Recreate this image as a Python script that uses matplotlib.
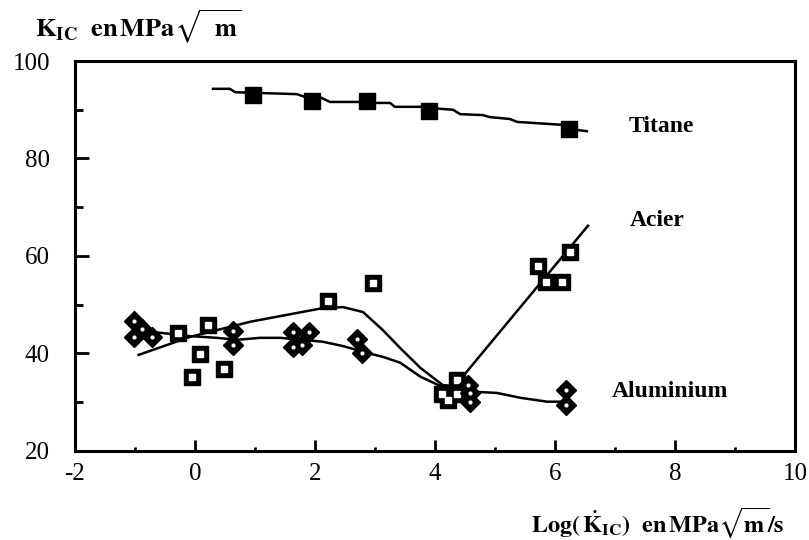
"""K_IC en fonction de la vitesse de chargement : titane, acier, aluminium."""

import matplotlib

matplotlib.use("Agg")
import matplotlib.pyplot as plt
from matplotlib.ticker import MultipleLocator

plt.rcParams["font.family"] = ["Liberation Serif", "DejaVu Serif"]
plt.rcParams["mathtext.fontset"] = "stix"
plt.rcParams["axes.unicode_minus"] = False

# points mesurés
titane_x = [0.97, 1.95, 2.87, 3.90, 6.24]
titane_y = [93.0, 91.8, 91.8, 89.7, 86.1]

acier_x = [-0.28, 0.22, 0.09, -0.05, 0.48, 2.21, 2.96, 4.12, 4.37, 4.22, 4.37, 5.71, 5.85, 6.12, 6.25]
acier_y = [44.2, 45.8, 39.9, 35.2, 36.8, 50.8, 54.5, 31.7, 31.7, 30.5, 34.6, 57.9, 54.7, 54.7, 60.8]

alu_x = [-1.02, -1.02, -0.88, -0.71, 0.63, 0.63, 1.64, 1.90, 1.64, 1.79, 2.70, 2.79, 4.55, 4.59, 4.59, 6.19, 6.19]
alu_y = [46.7, 43.4, 45.0, 43.4, 44.6, 41.7, 44.4, 44.4, 41.3, 41.8, 42.9, 40.0, 33.6, 31.9, 30.0, 32.5, 29.4]

# courbes tracées à la main
titane_cx = [0.30, 0.58, 0.67, 1.70, 1.84, 2.08, 2.25, 2.75, 2.96, 3.25, 3.33, 3.79, 4.08, 4.30,
             4.42, 4.80, 4.91, 5.25, 5.37, 5.63, 6.13, 6.34, 6.53]
titane_cy = [94.3, 94.3, 93.6, 93.2, 92.6, 92.6, 91.6, 91.6, 91.4, 91.4, 90.6, 90.6, 90.2, 90.0,
             89.1, 88.9, 88.5, 88.1, 87.5, 87.3, 86.9, 85.9, 85.6]

acier_cx = [-0.94, -0.08, 0.92, 2.13, 2.47, 2.80, 3.13, 3.42, 3.76, 4.13, 4.33, 6.55]
acier_cy = [39.7, 43.4, 46.5, 49.3, 49.5, 48.5, 44.8, 41.1, 37.0, 33.5, 33.3, 66.2]

alu_cx = [-1.03, -0.55, -0.13, 0.36, 0.70, 1.09, 1.42, 2.13, 2.47, 2.87, 3.13, 3.42, 3.76, 4.13,
          4.70, 5.03, 5.42, 5.87, 6.17]
alu_cy = [44.8, 44.2, 43.6, 43.2, 42.8, 43.2, 43.2, 42.4, 41.5, 40.1, 39.3, 38.1, 35.2, 33.1,
          32.1, 31.9, 30.9, 30.1, 30.1]

fig = plt.figure(figsize=(8.09, 5.40), dpi=100)
ax = fig.add_axes([0.0927, 0.165, 0.890, 0.722])

ax.plot(titane_cx, titane_cy, color="black", lw=1.8)
ax.plot(acier_cx, acier_cy, color="black", lw=1.8)
ax.plot(alu_cx, alu_cy, color="black", lw=1.8)

ax.plot(titane_x, titane_y, "s", color="black", ms=11, ls="none")
ax.plot(acier_x, acier_y, "s", color="black", ms=11, ls="none")
ax.plot(acier_x, acier_y, "s", color="white", ms=4, ls="none")
ax.plot(alu_x, alu_y, "D", color="black", ms=10, ls="none")
ax.plot(alu_x, alu_y, "o", color="white", ms=2, ls="none")

ax.set_xlim(-2, 10)
ax.set_ylim(20, 100)
ax.xaxis.set_major_locator(MultipleLocator(2))
ax.xaxis.set_minor_locator(MultipleLocator(1))
ax.yaxis.set_major_locator(MultipleLocator(20))
ax.yaxis.set_minor_locator(MultipleLocator(10))
ax.tick_params(which="both", direction="in", width=2, labelsize=18, top=False, right=False)
ax.tick_params(axis="x", which="major", length=8, pad=9)
ax.tick_params(axis="x", which="minor", length=3)
ax.tick_params(axis="y", which="major", length=10, pad=18)
ax.tick_params(axis="y", which="minor", length=6)
for spine in ax.spines.values():
    spine.set_linewidth(2.2)

text_style = dict(fontsize=17, fontweight="bold", ha="left", va="center")
ax.text(7.22, 86.5, "Titane", **text_style)
ax.text(7.25, 67.2, "Acier", **text_style)
ax.text(6.95, 32.1, "Aluminium", **text_style)

fig.text(0.043, 0.95, r"$\mathbf{K_{IC}}\ \ \mathbf{en\,MPa}\sqrt{\ \ \mathbf{m}}$",
         fontsize=19, ha="left", va="center")
fig.text(0.97, 0.032, r"$\mathbf{Log(\,\dot{K}_{IC})\ \ en\,MPa}\sqrt{\mathbf{m}}\mathbf{/s}$",
         fontsize=17.5, ha="right", va="center")

fig.savefig("out.png", dpi=100)
